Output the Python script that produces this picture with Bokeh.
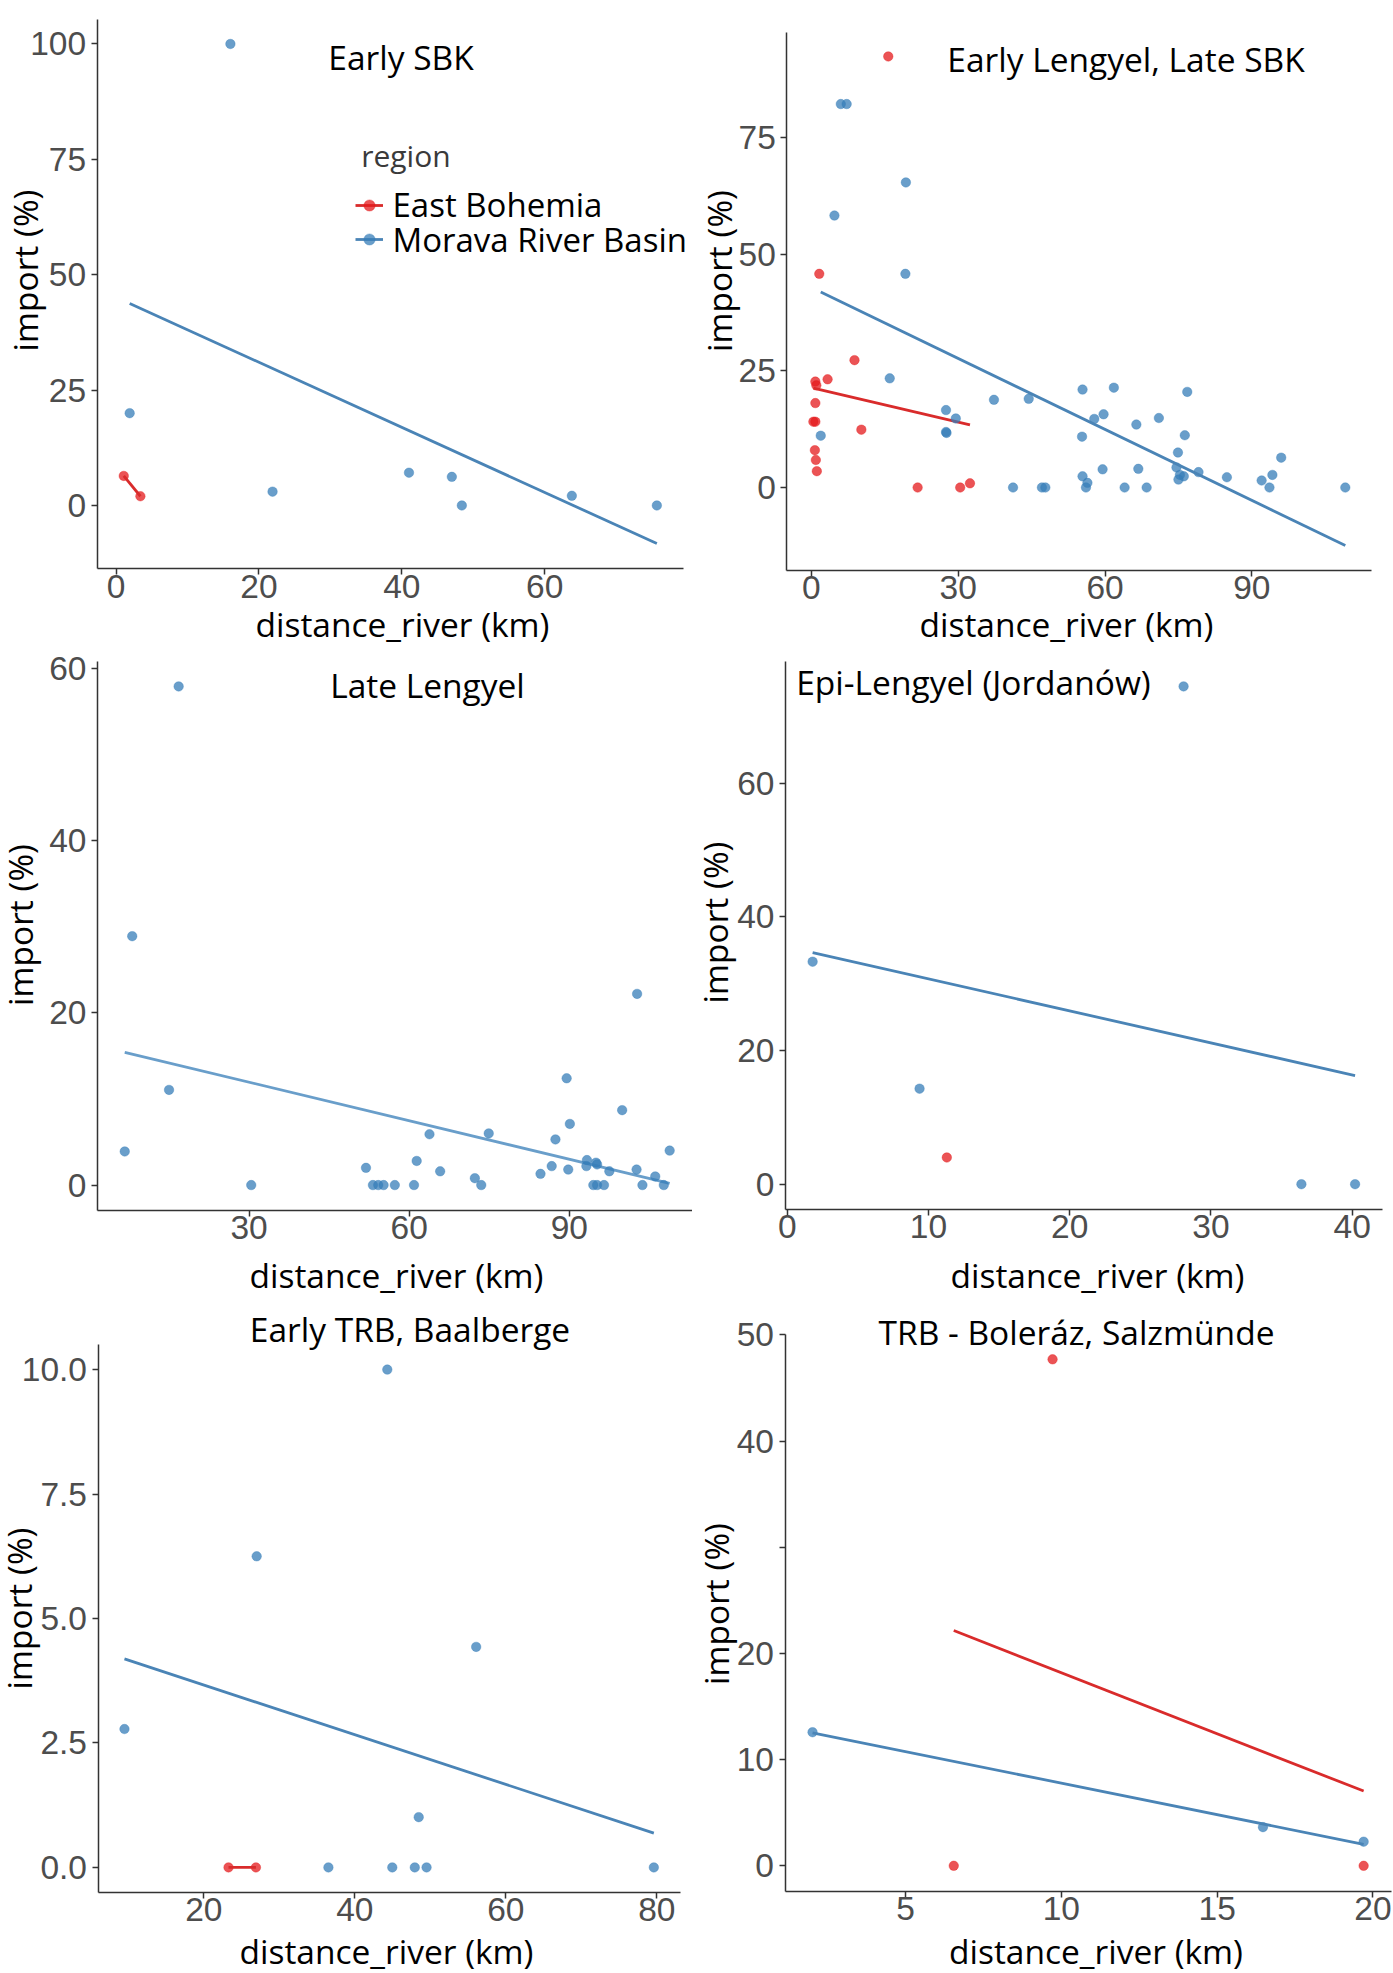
import math
import numpy as np
from bokeh.plotting import figure
from bokeh.models import Range1d, FixedTicker, Label, Legend, LegendItem, NumeralTickFormatter
from bokeh.layouts import column, row
from bokeh.embed import file_html
from bokeh.resources import INLINE

# ---------------- data ----------------
regions = ["East Bohemia", "Morava River Basin"]
periods = ["Early SBK", "Early Lengyel, Late SBK", "Late Lengyel",
           "Epi-Lengyel (Jordanów)", "Early TRB, Baalberge", "TRB - Boleráz, Salzmünde"]

# Early SBK
eb1_x = [1.07, 3.4]
eb1_y = [6.4, 2.0]
mr1_x = [1.9, 16.0, 21.9, 41.0, 47.0, 48.4, 63.8, 75.7]
mr1_y = [20.0, 100.0, 3.0, 7.1, 6.2, 0.0, 2.1, 0.0]

# Early Lengyel, Late SBK
eb2_x = [15.7, 1.6, 8.8, 3.3, 0.8, 1.0, 0.8, 0.4, 0.8, 10.2, 0.7, 0.9, 1.1, 21.7, 30.4, 32.4]
eb2_y = [92.4, 45.8, 27.3, 23.2, 22.7, 21.9, 18.1, 14.1, 14.1, 12.4, 8.0, 5.9, 3.5, 0.0, 0.0, 0.9]
mr2_x = [6.0, 7.2, 19.3, 4.7, 19.2, 16.0, 27.5, 29.5, 27.5, 27.6, 1.9, 37.3, 44.4, 41.2, 47.1,
         47.8, 55.4, 61.8, 57.8, 59.7, 55.3, 55.4, 56.4, 56.1, 59.5, 64.0, 66.4, 66.8, 68.5, 71.0,
         76.8, 76.3, 74.9, 74.6, 75.3, 76.1, 75.0, 79.1, 84.9, 92.0, 93.6, 94.2, 96.0, 109.1]
mr2_y = [82.2, 82.2, 65.4, 58.3, 45.8, 23.4, 16.6, 14.8, 11.9, 11.7, 11.1, 18.8, 19.0, 0.0, 0.0,
         0.0, 21.0, 21.4, 14.7, 15.7, 10.9, 2.4, 1.0, 0.0, 3.9, 0.0, 13.5, 4.0, 0.0, 14.9,
         20.5, 11.2, 7.5, 4.3, 2.7, 2.4, 1.7, 3.3, 2.2, 1.5, 0.0, 2.7, 6.4, 0.0]

# Late Lengyel
eb3_x = []
eb3_y = []
mr3_x = [16.8, 8.1, 15.0, 6.7, 30.4, 51.9, 53.2, 54.2, 55.2, 57.3, 60.9, 61.4, 63.8, 65.8, 72.3,
         73.5, 74.9, 84.6, 86.7, 87.4, 89.5, 90.1, 89.8, 93.3, 93.2, 95.0, 95.2, 94.5, 95.2, 96.5,
         97.5, 99.9, 102.7, 102.6, 103.7, 106.1, 107.7, 108.8]
mr3_y = [57.9, 28.9, 11.05, 3.9, 0.0, 2.0, 0.0, 0.0, 0.0, 0.0, 0.0, 2.8, 5.9, 1.6, 0.8,
         0.0, 6.0, 1.3, 2.2, 5.3, 12.4, 7.1, 1.8, 2.9, 2.2, 2.6, 2.4, 0.0, 0.0, 0.0,
         1.6, 8.7, 22.2, 1.8, 0.0, 1.0, 0.0, 4.0]

# Epi-Lengyel (Jordanów)
eb4_x = [11.3]
eb4_y = [4.0]
mr4_x = [28.06, 1.8, 9.37, 36.4, 40.2]
mr4_y = [74.5, 33.3, 14.3, 0.0, 0.0]

# Early TRB, Baalberge
eb5_x = [23.27, 26.9]
eb5_y = [0.0, 0.0]
mr5_x = [44.3, 27.0, 56.07, 9.49, 48.46, 36.5, 44.96, 47.94, 49.5, 79.6]
mr5_y = [10.0, 6.25, 4.43, 2.78, 1.01, 0.0, 0.0, 0.0, 0.0, 0.0]

# TRB - Boleráz, Salzmünde
eb6_x = [9.72, 6.55, 19.7]
eb6_y = [47.7, 0.0, 0.0]
mr6_x = [2.02, 16.47, 19.7]
mr6_y = [12.58, 3.64, 2.27]

x_ticks = [[0, 20, 40, 60], [0, 30, 60, 90], [30, 60, 90], [0, 10, 20, 30, 40], [20, 40, 60, 80], [5, 10, 15, 20]]
y_ticks = [[0, 25, 50, 75, 100], [0, 25, 50, 75], [0, 20, 40, 60], [0, 20, 40, 60], [0, 2.5, 5, 7.5, 10], [0, 10, 20, 30, 40, 50]]

x_title = "distance_river (km)"
y_title = "import (%)"
legend_title = "region"

# ---------------- styling / layout ----------------
PT_COL = {"East Bohemia": "#E41A1C", "Morava River Basin": "#377EB8"}
LN_COL = {"East Bohemia": "#D92B2B", "Morava River Basin": "#4A84B6"}
TXT_FONT = "Open Sans"
TICK_FONT = "Liberation Sans"
MID = 0.33  # distance (in em) from the alphabetic baseline to the text box middle

COL_X = [0, 692, 1392]
ROW_Y = [0, 654, 1300, 1972]

# page-pixel geometry of each panel: panel rect (left, right, top, bottom),
# title (cx, baseline), y title (baseline x, cy), x title (cx, baseline)
specs = [
    dict(c=0, r=0, rect=(96.6, 683.0, 18.5, 568.0), t=(400.5, 68.0), yt=(36, 270), xt=(402, 635)),
    dict(c=1, r=0, rect=(786.3, 1371.4, 31.5, 569.5), t=(1125.5, 70.0), yt=(729.5, 270.5), xt=(1066, 635)),
    dict(c=0, r=1, rect=(97.0, 696.4, 661.0, 1209.5), t=(427, 695.5), yt=(31, 924.5), xt=(396, 1286)),
    dict(c=1, r=1, rect=(785.0, 1381.7, 661.0, 1208.6), t=(973, 692.5), yt=(726, 922), xt=(1097, 1286)),
    dict(c=0, r=2, rect=(97.5, 679.8, 1344.2, 1891.8), t=(409.5, 1340.0), yt=(30, 1608), xt=(386, 1962)),
    dict(c=1, r=2, rect=(784.5, 1390.7, 1333.5, 1890.6), t=(1076, 1343.0), yt=(727, 1603.5), xt=(1095.5, 1962)),
]

panel_data = [
    (eb1_x, eb1_y, mr1_x, mr1_y), (eb2_x, eb2_y, mr2_x, mr2_y), (eb3_x, eb3_y, mr3_x, mr3_y),
    (eb4_x, eb4_y, mr4_x, mr4_y), (eb5_x, eb5_y, mr5_x, mr5_y), (eb6_x, eb6_y, mr6_x, mr6_y),
]


def fit(xs, ys):
    xs = np.asarray(xs, float)
    ys = np.asarray(ys, float)
    if len(xs) < 2 or np.ptp(xs) == 0:
        return None
    k, c = np.polyfit(xs, ys, 1)
    fx = np.array([xs.min(), xs.max()])
    return fx, k * fx + c


figs = []
for i, s in enumerate(specs):
    ebx, eby, mrx, mry = panel_data[i]
    groups = {"East Bohemia": (ebx, eby), "Morava River Basin": (mrx, mry)}
    fits = {g: fit(*v) for g, v in groups.items()}
    allx = list(ebx) + list(mrx)
    ally = list(eby) + list(mry)
    for f in fits.values():
        if f is not None:
            ally += list(f[1])
    x0, x1 = min(allx), max(allx)
    y0, y1 = min(ally), max(ally)
    dx, dy = (x1 - x0) * 0.05, (y1 - y0) * 0.05
    x0, x1, y0, y1 = x0 - dx, x1 + dx, y0 - dy, y1 + dy

    fx0, fx1 = COL_X[s["c"]], COL_X[s["c"] + 1]
    fy0, fy1 = ROW_Y[s["r"]], ROW_Y[s["r"] + 1]
    pl, pr, pt, pb = s["rect"]
    kx = (x1 - x0) / (pr - pl)
    ky = (y1 - y0) / (pb - pt)
    xr = Range1d(x0 - (pl - fx0) * kx, x1 + (fx1 - pr) * kx)
    yr = Range1d(y0 - (fy1 - pb) * ky, y1 + (pt - fy0) * ky)

    p = figure(width=fx1 - fx0, height=fy1 - fy0, output_backend="svg", toolbar_location=None,
               tools="", x_range=xr, y_range=yr, min_border=0)
    p.title.visible = False
    p.outline_line_color = None
    p.background_fill_color = "white"
    p.border_fill_color = "white"
    p.grid.visible = False
    xa, ya = p.xaxis[0], p.yaxis[0]
    for ax in (xa, ya):
        ax.axis_line_color = "#333333"
        ax.axis_line_width = 1.5
        ax.major_tick_line_color = "#333333"
        ax.major_tick_line_width = 1.5
        ax.major_tick_out = 6
        ax.major_tick_in = 0
        ax.minor_tick_line_color = None
        ax.major_label_text_font = TICK_FONT
        ax.major_label_text_font_size = "33.5px"
        ax.major_label_text_color = "#4D4D4D"
    xa.fixed_location = y0
    xa.bounds = (x0, x1)
    ya.fixed_location = x0
    ya.bounds = (y0, y1)
    xa.ticker = FixedTicker(ticks=x_ticks[i])
    ya.ticker = FixedTicker(ticks=y_ticks[i])
    xa.major_label_standoff = 0
    ya.major_label_standoff = 5
    if i == 4:
        ya.formatter = NumeralTickFormatter(format="0.0")
    if i == 5:
        ya.major_label_overrides = {30: ""}

    rends = {}
    for g, (gx, gy) in groups.items():
        pts = None
        if len(gx):
            pts = p.scatter(gx, gy, size=9.5, fill_color=PT_COL[g], line_color=PT_COL[g],
                            fill_alpha=0.75, line_alpha=0.75, line_width=0.5)
        ln = None
        f = fits[g]
        if f is not None:
            col = LN_COL[g]
            alpha = 1.0
            if i == 2:
                col, alpha = PT_COL[g], 0.75
            ln = p.line(f[0], f[1], line_color=col, line_width=2.8, line_alpha=alpha)
        rends[g] = (ln, pts)

    def lab(X, Y, text, size, color="black", rotated=False, align="center"):
        if rotated:
            sx, sy, ang = X - MID * size - fx0, fy1 - Y, math.pi / 2
        else:
            sx, sy, ang = X - fx0, fy1 - (Y - MID * size), 0.0
        p.add_layout(Label(x=sx, y=sy, x_units="screen", y_units="screen", text=text,
                           text_font=TXT_FONT, text_font_size=f"{size}px", text_color=color,
                           text_align=align, text_baseline="middle", angle=ang))

    lab(s["t"][0], s["t"][1], periods[i], 33.5)
    lab(s["yt"][0], s["yt"][1], y_title, 33.5, rotated=True)
    lab(s["xt"][0], s["xt"][1], x_title, 33.5)

    if i == 0:
        lab(360.7, 165.0, legend_title, 30, color="#3A3A3A", align="left")
        for g, key_y in (("East Bohemia", 204.5), ("Morava River Basin", 239.0)):
            ln, pts = rends[g]
            leg = Legend(items=[LegendItem(label=g, renderers=[ln, pts])],
                         location=(354.5 - fx0, fy1 - (key_y + 25)),
                         padding=0, margin=0, spacing=0, border_line_color=None,
                         background_fill_alpha=0, glyph_width=28, glyph_height=50,
                         label_height=50, label_standoff=10,
                         label_text_font=TXT_FONT, label_text_font_size="33px",
                         label_text_color="black")
            p.add_layout(leg)
    figs.append(p)

layout = column(row(figs[0], figs[1], spacing=0), row(figs[2], figs[3], spacing=0),
                row(figs[4], figs[5], spacing=0), spacing=0)

open("out.html", "w").write(file_html(layout, INLINE))
